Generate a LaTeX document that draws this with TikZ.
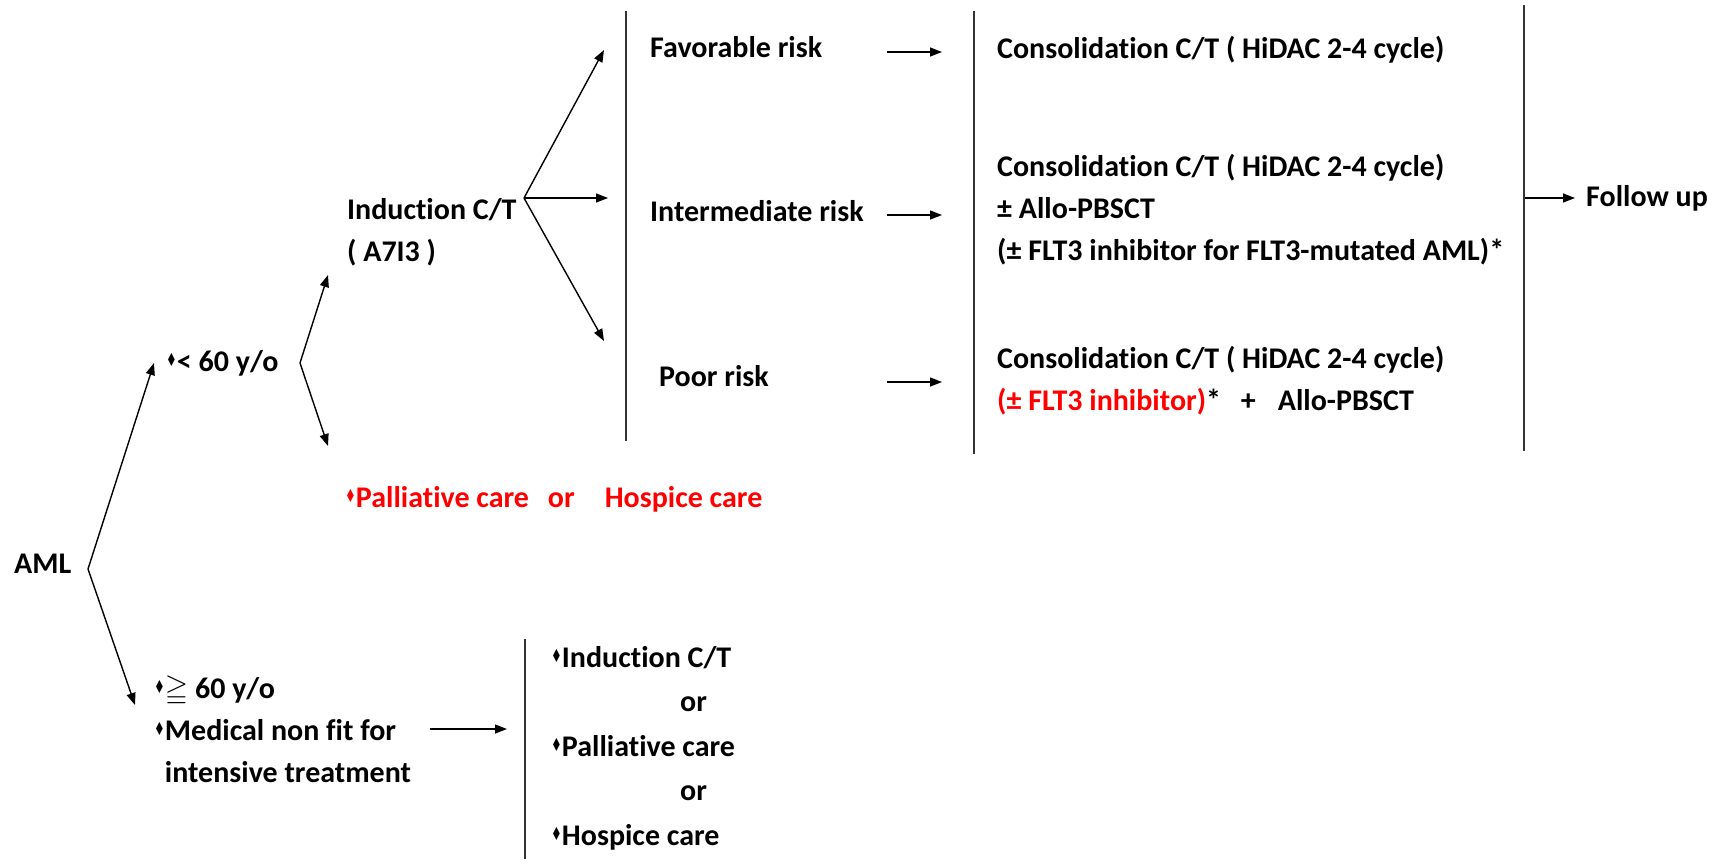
\documentclass[tikz,border=0pt]{standalone}
\usepackage{fontspec}
\usepackage{amssymb}
\setmainfont{Carlito}[Ligatures=NoCommon]
\newfontfamily\symfont{DejaVu Sans}
\usetikzlibrary{arrows.meta}
\definecolor{ink}{HTML}{000000}
\definecolor{alert}{HTML}{FF0000}
\definecolor{rule}{HTML}{333333}
\newcommand{\bul}{\raisebox{0.35ex}{\scalebox{0.4}[0.6]{\symfont ♦}}}
\tikzset{
  txt/.style={anchor=west, inner sep=0pt, text=ink, align=left,
    font=\fontsize{30}{42}\selectfont\bfseries},
  warn/.style={txt, text=alert},
  link/.style={draw=ink, line width=1.4pt, -{Triangle[length=12pt,width=9pt]}},
  bar/.style={draw=rule, line width=1.4pt}
}
\begin{document}
\begin{tikzpicture}[x=1pt,y=-1pt]
  \useasboundingbox (0,0) rectangle (1727,860);
  % texts
  \node[txt] (aml) at (14,564) {AML};
  \node[txt] (young) at (166,363) {\bul< 60 y/o};
  \node[txt] (ind) at (347,232) {Induction C/T\\( A7I3 )};
  \node[txt] (fav) at (650,47) {Favorable risk};
  \node[txt] (mid) at (650,211) {Intermediate risk};
  \node[txt] (poor) at (659,376) {Poor risk};
  \node[txt] (cfav) at (997,50) {Consolidation C/T ( HiDAC 2-4 cycle)};
  \node[txt] (cmid) at (997,210) {Consolidation C/T ( HiDAC 2-4 cycle)\\
    ± Allo-PBSCT\\(± FLT3 inhibitor for FLT3-mutated AML)*};
  \node[txt] (cpoor) at (997,381) {Consolidation C/T ( HiDAC 2-4 cycle)\\
    {\color{alert}(± FLT3 inhibitor)}*\hspace{20pt}+\hspace{22pt}Allo-PBSCT};
  \node[txt] (fu) at (1586,198) {Follow up};
  \node[warn] (pal) at (345,499) {\bul Palliative care\hspace{19pt}or\hspace{30pt}Hospice care};
  \node[txt] (old) at (154,729) {\bul$\geqq$ 60 y/o\\\bul Medical non fit for\\
    \phantom{\bul}intensive treatment};
  \node[txt,font=\fontsize{30}{44.5}\selectfont\bfseries] (opts) at (551,748)
    {\bul Induction C/T\\\hspace{129pt}or\\\bul Palliative care\\
    \hspace{129pt}or\\\bul Hospice care};
  % branch points and arrow ends
  \coordinate (v1) at (88,569);
  \coordinate (v2) at (300,363);
  \coordinate (v3) at (524,198);
  \coordinate (t1) at (154,363);
  \coordinate (t2) at (135,705);
  \coordinate (t3) at (328,275);
  \coordinate (t4) at (328,446);
  \coordinate (t5) at (604,50);
  \coordinate (t6) at (608,198);
  \coordinate (t7) at (604,341);
  \draw[link] (v1) -- (t1);
  \draw[link] (v1) -- (t2);
  \draw[link] (v2) -- (t3);
  \draw[link] (v2) -- (t4);
  \draw[link] (v3) -- (t5);
  \draw[link] (v3) -- (t6);
  \draw[link] (v3) -- (t7);
  \coordinate (f1) at (887,52);
  \coordinate (f2) at (942,52);
  \coordinate (m1) at (887,215);
  \coordinate (m2) at (942,215);
  \coordinate (p1) at (887,382);
  \coordinate (p2) at (942,382);
  \draw[link] (f1) -- (f2);
  \draw[link] (m1) -- (m2);
  \draw[link] (p1) -- (p2);
  \coordinate (u1) at (1524,198);
  \draw[link] (u1) -- ([xshift=-11pt]fu.west);
  \coordinate (o1) at (430,729);
  \coordinate (o2) at (507,729);
  \draw[link] (o1) -- (o2);
  % separators
  \draw[bar] (626,11) -- (626,441);
  \draw[bar] (974,11) -- (974,454);
  \draw[bar] (1524,5) -- (1524,451);
  \draw[bar] (525,639) -- (525,859);
\end{tikzpicture}
\end{document}
